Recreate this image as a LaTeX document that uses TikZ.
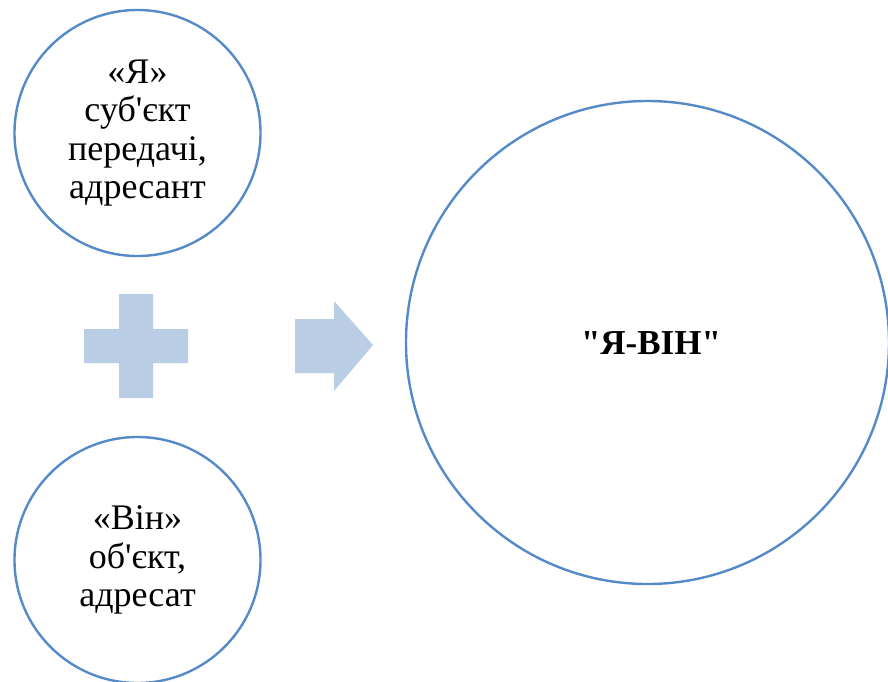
\documentclass[tikz,border=0pt]{standalone}
\usepackage{fontspec}
\setmainfont{Liberation Serif}[Ligatures=TeXOff]
\definecolor{circline}{RGB}{84,138,199}
\definecolor{shapefill}{RGB}{185,205,229}
\begin{document}
\begin{tikzpicture}[x=1bp,y=-1bp,
  circ/.style={circle,draw=circline,line width=2.4bp,inner sep=0pt,align=center,
    font={\fontsize{36bp}{38.5bp}\selectfont}},
  bigtext/.style={font={\fontsize{35bp}{40bp}\selectfont\bfseries}}]
\useasboundingbox (0,0) rectangle (888,682);
\node[circ,minimum size=246bp] (ya) at (137.5,133) {«Я»\\суб'єкт\\передачі,\\адресант};
\node[circ,minimum size=246bp] (vin) at (137.5,560) {«Він»\\об'єкт,\\адресат};
\node[circ,minimum size=483bp] (yavin) at (647.5,342.5) {};
\node[bigtext] (yavintext) at (651,343) {"Я-ВІН"};
% plus
\fill[shapefill] (119,294) -- (153,294) -- (153,329) -- (188,329) -- (188,363) -- (153,363) -- (153,398) -- (119,398) -- (119,363) -- (84,363) -- (84,329) -- (119,329) -- cycle;
% arrow
\fill[shapefill] (295,319) -- (334,319) -- (334,301) -- (373,345) -- (334,391) -- (334,373) -- (295,373) -- cycle;
\end{tikzpicture}
\end{document}
